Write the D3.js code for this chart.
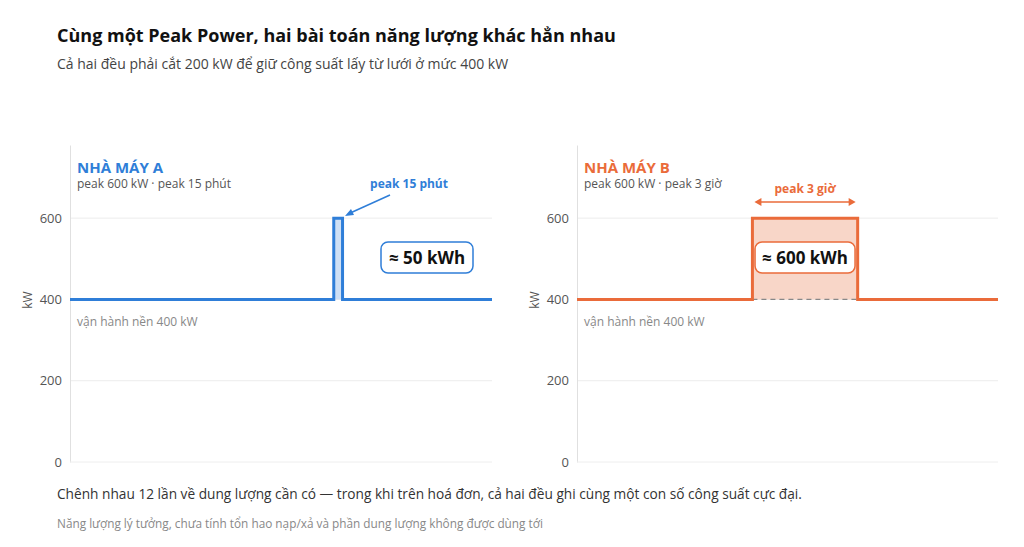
<!DOCTYPE html>
<html><head><meta charset="utf-8">
<script src="https://cdn.jsdelivr.net/npm/d3@7"></script>
<style>body{margin:0;background:#fff;font-family:"Segoe UI","Open Sans","Noto Sans",sans-serif}</style>
</head><body><svg id="c" width="1024" height="547"></svg>
<script>
const plants = ["NHÀ MÁY A","NHÀ MÁY B"];
const subtitles = ["peak 600 kW · peak 15 phút","peak 600 kW · peak 3 giờ"];
const peakLabels = ["peak 15 phút","peak 3 giờ"];
const energyLabels = ["≈ 50 kWh","≈ 600 kWh"];
const baseLoad = 400, peakLoad = 600;
const peakStart = [7.5, 5];
const peakEnd = [7.75, 8];
const hoursDomain = [0, 12];
const yTicks = [0,200,400,600];
const colors = ["#2f7ed8","#ea6b3a"];
const fills = ["#cfe0f5","#f8d6c8"];

const svg = d3.select("#c");
svg.append("text").attr("x",57).attr("y",42).attr("font-size",18).attr("font-weight",700).attr("fill","#111")
  .text("Cùng một Peak Power, hai bài toán năng lượng khác hẳn nhau");
svg.append("text").attr("x",57).attr("y",69).attr("font-size",14).attr("fill","#444")
  .text("Cả hai đều phải cắt 200 kW để giữ công suất lấy từ lưới ở mức 400 kW");

const panels=[{x0:70,x1:492},{x0:577,x1:998}];
const y=d3.scaleLinear().domain([0,780]).range([462,145]);
panels.forEach((p,i)=>{
  const g=svg.append("g");
  const x=d3.scaleLinear().domain(hoursDomain).range([p.x0,p.x1]);
  g.selectAll(".gr").data(yTicks.filter(d=>d>0)).join("line").attr("x1",p.x0).attr("x2",p.x1)
   .attr("y1",d=>y(d)).attr("y2",d=>y(d)).attr("stroke","#ececec");
  const ax=g.append("g").attr("transform",`translate(${p.x0},0)`).call(d3.axisLeft(y).tickValues(yTicks).tickSize(0).tickPadding(8));
  ax.select(".domain").attr("stroke","#e0e0e0");
  ax.selectAll("text").attr("font-size",13).attr("fill","#555").attr("font-family","Segoe UI,Open Sans,sans-serif");
  g.append("line").attr("x1",p.x0).attr("x2",p.x1).attr("y1",462).attr("y2",462).attr("stroke","#eee");
  g.append("text").attr("transform",`translate(${p.x0-38},300) rotate(-90)`).attr("text-anchor","middle")
   .attr("font-size",12).attr("fill","#555").text("kW");
  g.append("rect").attr("x",x(peakStart[i])).attr("width",x(peakEnd[i])-x(peakStart[i]))
   .attr("y",y(peakLoad)).attr("height",y(baseLoad)-y(peakLoad)).attr("fill",fills[i]);
  if(i==1) g.append("line").attr("x1",x(peakStart[i])).attr("x2",x(peakEnd[i])).attr("y1",y(baseLoad)).attr("y2",y(baseLoad))
   .attr("stroke","#888").attr("stroke-dasharray","5,4").attr("stroke-width",1.3);
  const pts=[[0,baseLoad],[peakStart[i],baseLoad],[peakStart[i],peakLoad],[peakEnd[i],peakLoad],[peakEnd[i],baseLoad],[12,baseLoad]];
  g.append("path").attr("d",d3.line().x(d=>x(d[0])).y(d=>y(d[1]))(pts)).attr("fill","none").attr("stroke",colors[i]).attr("stroke-width",3);
  g.append("text").attr("x",p.x0+7).attr("y",173).attr("font-size",15).attr("font-weight",700).attr("fill",colors[i]).text(plants[i]);
  g.append("text").attr("x",p.x0+7).attr("y",188).attr("font-size",12).attr("fill","#555").text(subtitles[i]);
  g.append("text").attr("x",p.x0+7).attr("y",326).attr("font-size",12).attr("fill","#888").text("vận hành nền 400 kW");
  let bx,by=258,bw;
  if(i==0){
    g.append("text").attr("x",409).attr("y",188).attr("text-anchor","middle").attr("font-size",12).attr("font-weight",700).attr("fill",colors[i]).text(peakLabels[i]);
    g.append("line").attr("x1",390).attr("y1",195).attr("x2",348).attr("y2",214).attr("stroke",colors[i]).attr("stroke-width",1.5);
    g.append("path").attr("d","M345,216 l9,-1 l-3,-6 z").attr("fill",colors[i]);
    bx=427;bw=92;
  } else {
    const mid=(x(peakStart[i])+x(peakEnd[i]))/2;
    g.append("text").attr("x",mid).attr("y",193).attr("text-anchor","middle").attr("font-size",12).attr("font-weight",700).attr("fill",colors[i]).text(peakLabels[i]);
    g.append("line").attr("x1",x(peakStart[i])+4).attr("x2",x(peakEnd[i])-4).attr("y1",202).attr("y2",202).attr("stroke",colors[i]).attr("stroke-width",1.5);
    g.append("path").attr("d",`M${x(peakStart[i])+2},202 l7,-4 l0,8 z M${x(peakEnd[i])-2},202 l-7,-4 l0,8 z`).attr("fill",colors[i]);
    bx=mid;bw=100;
  }
  g.append("rect").attr("x",bx-bw/2).attr("y",by-16).attr("width",bw).attr("height",31).attr("rx",7)
   .attr("fill","#fff").attr("stroke",colors[i]).attr("stroke-width",1.5);
  g.append("text").attr("x",bx).attr("y",by+6).attr("text-anchor","middle").attr("font-size",17).attr("font-weight",700).attr("fill","#111").text(energyLabels[i]);
});
svg.append("text").attr("x",57).attr("y",499).attr("font-size",13.7).attr("fill","#333")
  .text("Chênh nhau 12 lần về dung lượng cần có — trong khi trên hoá đơn, cả hai đều ghi cùng một con số công suất cực đại.");
svg.append("text").attr("x",57).attr("y",528).attr("font-size",11.8).attr("fill","#888")
  .text("Năng lượng lý tưởng, chưa tính tổn hao nạp/xả và phần dung lượng không được dùng tới");
</script></body></html>
